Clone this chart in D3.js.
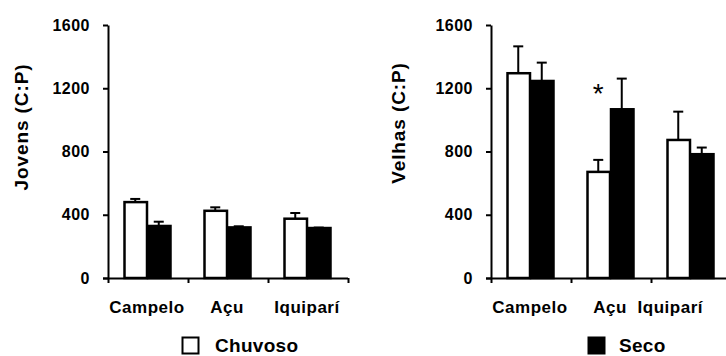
<!DOCTYPE html>
<html>
<head>
<meta charset="utf-8">
<script src="https://cdn.jsdelivr.net/npm/d3@7"></script>
<style>
  body { margin: 0; background: #fff; }
  text { font-family: "Liberation Sans", Arial, sans-serif; font-weight: bold; fill: #000; }
</style>
</head>
<body>
<svg id="chart" width="726" height="356"></svg>
<script>
// Sites and seasons
const sites = ["Campelo", "Açu", "Iquiparí"];
const seasons = ["Chuvoso", "Seco"];
const yTicks = [0, 400, 800, 1200, 1600];

// Jovens (C:P): means and standard errors
const jovensChuvoso = [480, 425, 375];
const jovensChuvosoErr = [20, 22, 36];
const jovensSeco = [329, 320, 316];
const jovensSecoErr = [27, 7, 3];

// Velhas (C:P): means and standard errors
const velhasChuvoso = [1295, 671, 873];
const velhasChuvosoErr = [170, 76, 179];
const velhasSeco = [1246, 1067, 783];
const velhasSecoErr = [116, 194, 42];

// Significance marks per site (Velhas panel)
const velhasSignif = ["", "*", ""];

const W = 726;
const svg = d3.select("#chart");

const y = d3.scaleLinear().domain([0, 1600]).range([278, 25]);

const panels = [
  { title: "Jovens (C:P)", left: 108, titleX: 21, titleY: 127,
    values: [jovensChuvoso, jovensSeco], errs: [jovensChuvosoErr, jovensSecoErr], signif: null },
  { title: "Velhas (C:P)", left: 491, titleX: 398, titleY: 123,
    values: [velhasChuvoso, velhasSeco], errs: [velhasChuvosoErr, velhasSecoErr], signif: velhasSignif }
];

const fills = { Chuvoso: "#fff", Seco: "#000" };

panels.forEach(p => {
  const g = svg.append("g");
  const bandW = 80;
  const xg = d3.scaleBand().domain(sites).range([p.left, p.left + bandW * sites.length]);
  const xi = d3.scaleBand().domain(seasons).range([15.5, 62.5]);

  // bars with upper error bars
  seasons.forEach((s, si) => {
    sites.forEach((site, i) => {
      const v = p.values[si][i];
      const e = p.errs[si][i];
      const bx = xg(site) + xi(s);
      const cx = bx + xi.bandwidth() / 2;
      g.append("line")
        .attr("x1", cx).attr("x2", cx)
        .attr("y1", y(v)).attr("y2", y(v + e))
        .attr("stroke", "#000").attr("stroke-width", 2);
      g.append("line")
        .attr("x1", cx - 5).attr("x2", cx + 5)
        .attr("y1", y(v + e)).attr("y2", y(v + e))
        .attr("stroke", "#000").attr("stroke-width", 2);
      g.append("rect")
        .attr("x", bx + 1).attr("y", y(v))
        .attr("width", xi.bandwidth() - 1)
        .attr("height", y(0) - y(v))
        .attr("fill", fills[s])
        .attr("stroke", "#000").attr("stroke-width", 2.5);
    });
  });

  // significance marks above the Chuvoso bars
  if (p.signif) {
    sites.forEach((site, i) => {
      if (!p.signif[i]) return;
      g.append("text")
        .attr("x", xg(site) + xi("Chuvoso") + xi.bandwidth() / 2)
        .attr("y", 103)
        .attr("text-anchor", "middle")
        .style("font-size", "28px")
        .style("font-weight", "normal")
        .text(p.signif[i]);
    });
  }

  // y axis
  const yAxis = g.append("g")
    .attr("transform", `translate(${p.left},0)`)
    .call(d3.axisLeft(y).tickValues(yTicks).tickFormat(d3.format("d"))
      .tickSize(5).tickSizeOuter(0).tickPadding(13));
  yAxis.select(".domain").attr("stroke-width", 2);
  yAxis.selectAll(".tick line").attr("stroke-width", 2);
  yAxis.selectAll(".tick text")
    .style("font-size", "16px").style("letter-spacing", "0.5px");

  // x axis with ticks at site boundaries
  const xLin = d3.scaleLinear().domain([0, sites.length]).range([p.left, p.left + bandW * sites.length]);
  const xAxis = g.append("g")
    .attr("transform", `translate(0,${y(0)})`)
    .call(d3.axisBottom(xLin).tickValues(d3.range(sites.length + 1)).tickSize(5).tickSizeOuter(0).tickFormat(""));
  xAxis.select(".domain").attr("stroke-width", 2)
    .attr("d", `M${p.left - 5},0.5H${p.left + bandW * sites.length}`);
  xAxis.selectAll(".tick line").attr("stroke-width", 2);

  // site labels, kept inside the drawing area
  g.selectAll(".site").data(sites).enter().append("text")
    .attr("y", 313)
    .attr("text-anchor", "middle")
    .style("font-size", "17px")
    .style("letter-spacing", "0.5px")
    .text(d => d)
    .attr("x", function (d) {
      const half = this.getComputedTextLength() / 2;
      return Math.min(xg(d) + bandW / 2 - 1, W - 23 - half);
    });

  // axis title
  g.append("text")
    .attr("transform", `translate(${p.titleX},${p.titleY}) rotate(-90)`)
    .attr("text-anchor", "middle")
    .attr("dy", "0.35em")
    .style("font-size", "19px")
    .style("letter-spacing", "0.9px")
    .text(p.title);
});

// legend
const legend = [
  { label: seasons[0], x: 182.5, tx: 215 },
  { label: seasons[1], x: 588.5, tx: 619 }
];
legend.forEach(l => {
  svg.append("rect")
    .attr("x", l.x).attr("y", 337.5)
    .attr("width", 16).attr("height", 16)
    .attr("fill", fills[l.label])
    .attr("stroke", "#000").attr("stroke-width", 2);
  svg.append("text")
    .attr("x", l.tx).attr("y", 352)
    .style("font-size", "19px")
    .style("letter-spacing", "0.3px")
    .text(l.label);
});
</script>
</body>
</html>
